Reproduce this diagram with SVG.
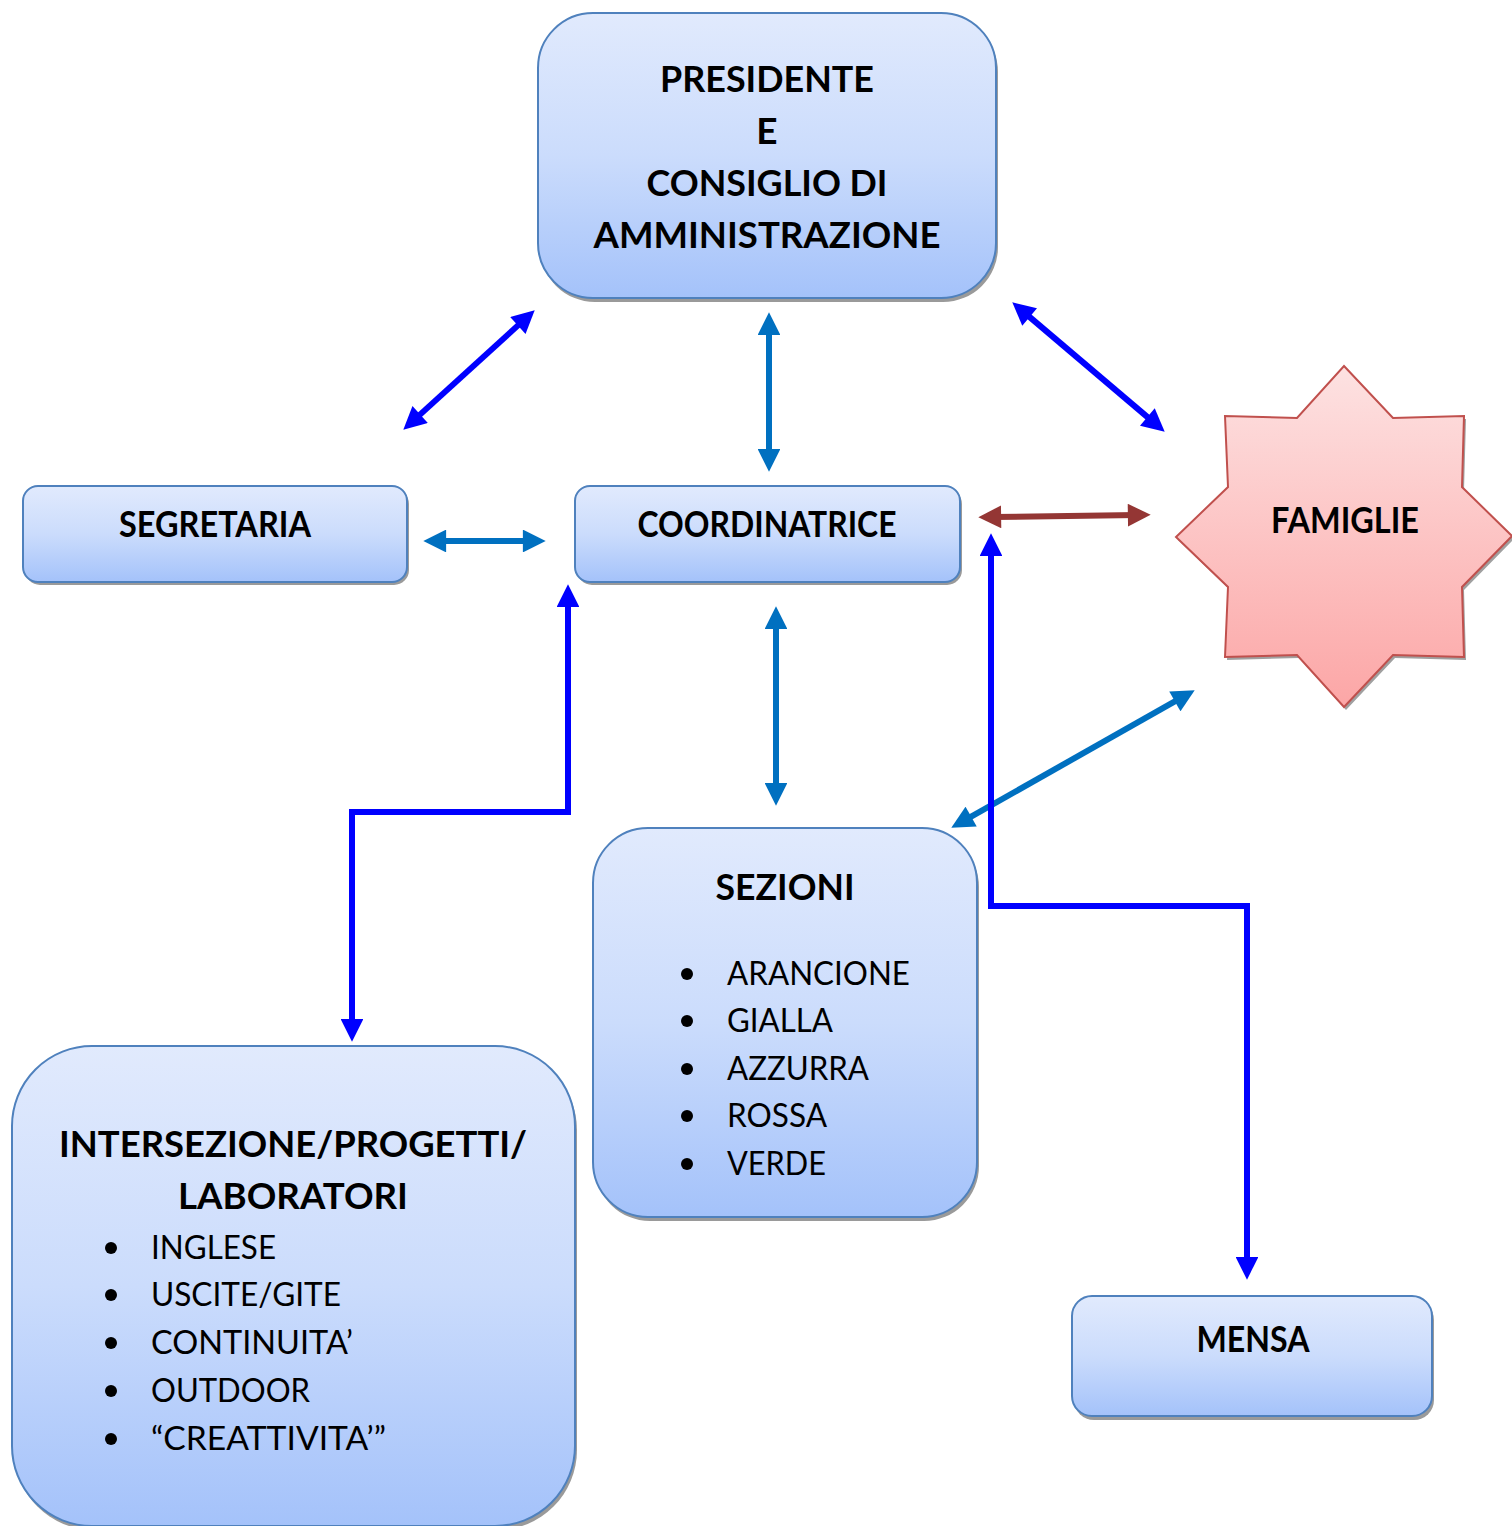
<svg xmlns="http://www.w3.org/2000/svg" width="1512" height="1526" viewBox="0 0 1512 1526">
<style>
.box{stroke:#4f81bd;stroke-width:2;fill:url(#gBlue)}
.sh{fill:#9a9a9a}
.tb{font-family:Lato,"Liberation Sans",sans-serif;font-weight:bold;font-size:37px;fill:#000}
.tr{font-family:Lato,"Liberation Sans",sans-serif;font-size:33px;fill:#000}
.c{stroke-width:6;fill:none}
.blue{stroke:#0000ff}
.mid{stroke:#0070c0}
.brown{stroke:#943634}
</style>
<defs>
<linearGradient id="gBlue" x1="0" y1="0" x2="0" y2="1">
<stop offset="0" stop-color="#e1eafd"/>
<stop offset="0.5" stop-color="#cbdcfc"/>
<stop offset="1" stop-color="#a4c2fa"/>
</linearGradient>
<linearGradient id="gRed" x1="0" y1="0" x2="0" y2="1">
<stop offset="0" stop-color="#fde2e2"/>
<stop offset="1" stop-color="#fca6a6"/>
</linearGradient>
<marker id="mBlue" viewBox="0 0 10 10" refX="4" refY="5" markerWidth="4" markerHeight="3.8" orient="auto-start-reverse"><path d="M0,0 L10,5 L0,10 z" fill="#0000ff"/></marker>
<marker id="mMid" viewBox="0 0 10 10" refX="4" refY="5" markerWidth="4" markerHeight="3.8" orient="auto-start-reverse"><path d="M0,0 L10,5 L0,10 z" fill="#0070c0"/></marker>
<marker id="mBrown" viewBox="0 0 10 10" refX="4" refY="5" markerWidth="4" markerHeight="3.8" orient="auto-start-reverse"><path d="M0,0 L10,5 L0,10 z" fill="#943634"/></marker>
</defs>
<rect width="1512" height="1526" fill="#fff"/>

<g id="connectors">
<line class="c blue" x1="413.4" y1="420.6" x2="524.6" y2="319.4" marker-start="url(#mBlue)" marker-end="url(#mBlue)"/>
<line class="c mid" x1="769" y1="326" x2="769" y2="458" marker-start="url(#mMid)" marker-end="url(#mMid)"/>
<line class="c blue" x1="1022.7" y1="311.1" x2="1154.3" y2="422.9" marker-start="url(#mBlue)" marker-end="url(#mBlue)"/>
<line class="c mid" x1="437" y1="541" x2="532" y2="541" marker-start="url(#mMid)" marker-end="url(#mMid)"/>
<line class="c brown" x1="992" y1="517" x2="1137" y2="515" marker-start="url(#mBrown)" marker-end="url(#mBrown)"/>
<line class="c mid" x1="776" y1="620" x2="776" y2="792" marker-start="url(#mMid)" marker-end="url(#mMid)"/>
<line class="c mid" x1="963.2" y1="821.1" x2="1182.8" y2="696.9" marker-start="url(#mMid)" marker-end="url(#mMid)"/>
<path class="c blue" d="M352,1028 L352,812 L568,812 L568,598" marker-start="url(#mBlue)" marker-end="url(#mBlue)"/>
<path class="c blue" d="M991,547 L991,906 L1247,906 L1247,1266" marker-start="url(#mBlue)" marker-end="url(#mBlue)"/>
</g>

<g id="presidente">
<rect class="sh" x="540" y="17" width="458" height="285" rx="55"/>
<rect class="box" x="538" y="13" width="458" height="285" rx="55"/>
<text class="tb" x="767" y="92" text-anchor="middle" textLength="214" lengthAdjust="spacingAndGlyphs">PRESIDENTE</text>
<text class="tb" x="767" y="144" text-anchor="middle">E</text>
<text class="tb" x="767" y="196" text-anchor="middle" textLength="241" lengthAdjust="spacingAndGlyphs">CONSIGLIO DI</text>
<text class="tb" x="767" y="248" text-anchor="middle" textLength="347" lengthAdjust="spacingAndGlyphs">AMMINISTRAZIONE</text>
</g>

<g id="segretaria">
<rect class="sh" x="25" y="489" width="384" height="96" rx="15"/>
<rect class="box" x="23" y="486" width="384" height="96" rx="15"/>
<text class="tb" x="215" y="537" text-anchor="middle" textLength="192" lengthAdjust="spacingAndGlyphs">SEGRETARIA</text>
</g>

<g id="coordinatrice">
<rect class="sh" x="577" y="489" width="385" height="96" rx="15"/>
<rect class="box" x="575" y="486" width="385" height="96" rx="15"/>
<text class="tb" x="767" y="537" text-anchor="middle" textLength="259" lengthAdjust="spacingAndGlyphs">COORDINATRICE</text>
</g>

<g id="famiglie">
<path d="M1346,369 L1395,421 L1466,419 L1464,490 L1514,539 L1464,590 L1466,660 L1395,658 L1346,710 L1299,658 L1227,660 L1230,590 L1178,540 L1230,490 L1227,419 L1299,421 Z" fill="#a0a0a0"/>
<path d="M1344,366 L1393,418 L1464,416 L1462,487 L1512,536 L1462,587 L1464,657 L1393,655 L1344,707 L1297,655 L1225,657 L1228,587 L1176,537 L1228,487 L1225,416 L1297,418 Z" fill="url(#gRed)" stroke="#c0504d" stroke-width="2"/>
<text class="tb" x="1345" y="533" text-anchor="middle" textLength="148" lengthAdjust="spacingAndGlyphs">FAMIGLIE</text>
</g>

<g id="sezioni">
<rect class="sh" x="595" y="832" width="384" height="389" rx="55"/>
<rect class="box" x="593" y="828" width="384" height="389" rx="55"/>
<text class="tb" x="785" y="900" text-anchor="middle" textLength="139" lengthAdjust="spacingAndGlyphs">SEZIONI</text>
<g fill="#000">
<circle cx="687" cy="974" r="6"/><circle cx="687" cy="1021" r="6"/><circle cx="687" cy="1069" r="6"/><circle cx="687" cy="1116" r="6"/><circle cx="687" cy="1164" r="6"/>
</g>
<text class="tr" x="727" y="985" textLength="183" lengthAdjust="spacingAndGlyphs">ARANCIONE</text>
<text class="tr" x="727" y="1032" textLength="106" lengthAdjust="spacingAndGlyphs">GIALLA</text>
<text class="tr" x="727" y="1080" textLength="142" lengthAdjust="spacingAndGlyphs">AZZURRA</text>
<text class="tr" x="727" y="1127" textLength="100" lengthAdjust="spacingAndGlyphs">ROSSA</text>
<text class="tr" x="727" y="1175" textLength="99" lengthAdjust="spacingAndGlyphs">VERDE</text>
</g>

<g id="intersezione">
<rect class="sh" x="14" y="1050" width="563" height="480" rx="80"/>
<rect class="box" x="12" y="1046" width="563" height="480" rx="80"/>
<text class="tb" x="293" y="1157" text-anchor="middle" textLength="468" lengthAdjust="spacingAndGlyphs">INTERSEZIONE/PROGETTI/</text>
<text class="tb" x="293" y="1209" text-anchor="middle" textLength="230" lengthAdjust="spacingAndGlyphs">LABORATORI</text>
<g fill="#000">
<circle cx="111" cy="1248" r="6"/><circle cx="111" cy="1295" r="6"/><circle cx="111" cy="1343" r="6"/><circle cx="111" cy="1391" r="6"/><circle cx="111" cy="1439" r="6"/>
</g>
<text class="tr" x="151" y="1259" textLength="125" lengthAdjust="spacingAndGlyphs">INGLESE</text>
<text class="tr" x="151" y="1306" textLength="190" lengthAdjust="spacingAndGlyphs">USCITE/GITE</text>
<text class="tr" x="151" y="1354" textLength="202" lengthAdjust="spacingAndGlyphs">CONTINUITA’</text>
<text class="tr" x="151" y="1402" textLength="159" lengthAdjust="spacingAndGlyphs">OUTDOOR</text>
<text class="tr" x="151" y="1450" textLength="235" lengthAdjust="spacingAndGlyphs">“CREATTIVITA’”</text>
</g>

<g id="mensa">
<rect class="sh" x="1074" y="1300" width="360" height="120" rx="20"/>
<rect class="box" x="1072" y="1296" width="360" height="120" rx="20"/>
<text class="tb" x="1253" y="1352" text-anchor="middle" textLength="113" lengthAdjust="spacingAndGlyphs">MENSA</text>
</g>
</svg>
